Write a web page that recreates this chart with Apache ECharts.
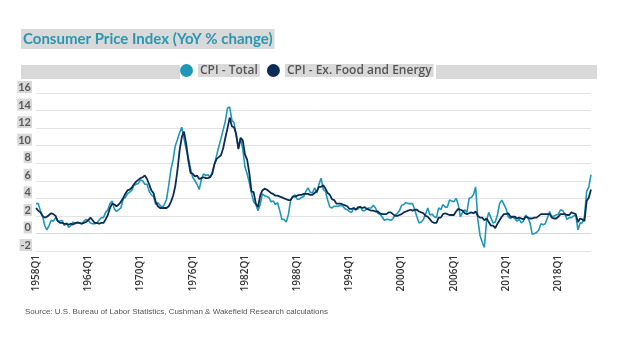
<!DOCTYPE html>
<html>
<head>
<meta charset="utf-8">
<script src="https://cdn.jsdelivr.net/npm/echarts@6/dist/echarts.min.js"></script>
<style>
  html, body { margin: 0; padding: 0; background: #fff; }
  #chart { width: 624px; height: 353px; }
</style>
</head>
<body>
<div id="chart"></div>
<script>
// quarterly, 1958Q1 .. 2021Q4
const firstYear = 1958;
const lastYear = 2021;

const cpiTotal = [
  3.4, 3.4, 2.6, 2.0,   0.9, 0.4, 0.9, 1.5,   1.4, 1.8, 1.4, 1.4,   1.5, 0.9, 1.2, 0.7,
  0.9, 1.3, 1.1, 1.3,   1.2, 1.1, 1.4, 1.6,   1.5, 1.2, 1.1, 1.1,   1.2, 1.5, 1.8, 1.8,
  2.4, 2.7, 3.4, 3.7,   2.8, 2.5, 2.7, 2.9,   3.9, 4.1, 4.5, 4.7,   4.9, 5.5, 5.6, 5.7,
  6.1, 6.0, 5.6, 5.6,   4.8, 4.4, 4.2, 3.3,   3.5, 3.2, 3.0, 3.3,   3.9, 5.5, 7.3, 8.4,
  10.0, 10.7, 11.5, 12.1, 10.8, 9.6, 8.6, 7.4, 6.4, 6.0, 5.6, 5.0,  6.2, 6.8, 6.6, 6.7,
  6.4, 7.0, 7.9, 8.9,   9.9, 10.8, 11.8, 12.8, 14.3, 14.4, 12.9, 12.6, 11.1, 9.8, 10.8, 9.6,
  7.6, 6.8, 5.8, 4.6,   3.6, 3.3, 2.6, 3.3,   4.5, 4.3, 4.2, 4.1,   3.6, 3.7, 3.3, 3.5,
  2.6, 1.6, 1.6, 1.3,   2.2, 3.8, 4.2, 4.4,   3.9, 3.9, 4.1, 4.2,   4.8, 5.2, 4.7, 4.6,
  5.2, 4.6, 5.6, 6.3,   5.0, 4.8, 3.8, 3.0,   2.9, 3.1, 3.1, 3.1,   3.2, 3.1, 2.8, 2.7,
  2.5, 2.4, 2.9, 2.7,   2.8, 3.1, 2.6, 2.6,   2.8, 2.9, 2.9, 3.2,   2.9, 2.3, 2.2, 1.9,
  1.5, 1.6, 1.6, 1.5,   1.7, 2.1, 2.3, 2.6,   3.2, 3.3, 3.5, 3.4,   3.4, 3.4, 2.7, 1.9,
  1.2, 1.3, 1.6, 2.2,   2.9, 2.1, 2.2, 1.9,   1.8, 2.9, 2.7, 3.3,   3.0, 3.0, 3.8, 3.7,
  3.6, 4.0, 3.3, 1.9,   2.4, 2.7, 2.4, 4.0,   4.1, 4.4, 5.3, 1.6,   -0.2, -1.0, -1.6, 1.4,
  2.4, 1.8, 1.2, 1.3,   2.1, 3.4, 3.8, 3.3,   2.8, 1.9, 1.7, 1.9,   1.7, 1.4, 1.6, 1.2,
  1.4, 2.1, 1.8, 1.2,   -0.1, 0.0, 0.1, 0.4,  1.1, 1.0, 1.1, 1.8,   2.5, 1.9, 2.0, 2.1,
  2.2, 2.7, 2.6, 2.2,   1.6, 1.8, 1.8, 2.0,   2.1, 0.4, 1.2, 1.2,   1.9, 4.8, 5.3, 6.7
];

const cpiCore = [
  2.9, 2.6, 2.4, 2.0,   1.8, 1.9, 2.1, 2.3,   2.2, 2.0, 1.4, 1.2,   1.2, 1.1, 1.1, 1.0,
  1.1, 1.0, 1.2, 1.2,   1.2, 1.1, 1.2, 1.3,   1.5, 1.8, 1.5, 1.2,   1.2, 1.1, 1.2, 1.2,
  1.6, 2.1, 2.9, 3.4,   3.3, 3.1, 3.3, 3.6,   4.0, 4.5, 4.9, 5.0,   5.2, 5.6, 5.9, 6.1,
  6.3, 6.4, 6.6, 6.2,   5.6, 4.9, 4.6, 3.6,   3.1, 2.9, 2.9, 2.9,   2.9, 3.1, 3.6, 4.3,
  5.4, 7.2, 9.5, 11.0,  11.6, 10.2, 8.3, 6.9, 6.8, 6.5, 6.6, 6.2,   6.3, 6.4, 6.3, 6.3,
  6.4, 6.8, 7.9, 8.5,   8.7, 8.9, 9.7, 10.9,  12.0, 13.2, 12.2, 12.1, 11.3, 9.6, 10.9, 10.6,
  9.0, 8.4, 6.9, 4.8,   4.7, 3.4, 3.0, 4.3,   4.9, 5.1, 5.0, 4.8,   4.6, 4.5, 4.3, 4.3,
  4.2, 4.1, 4.0, 3.9,   3.8, 3.8, 4.2, 4.2,   4.3, 4.4, 4.4, 4.5,   4.5, 4.5, 4.4, 4.4,
  4.6, 4.8, 5.3, 5.3,   5.5, 5.1, 4.6, 4.4,   3.9, 3.8, 3.4, 3.4,   3.4, 3.3, 3.2, 3.1,
  2.8, 2.8, 2.9, 2.7,   3.0, 3.0, 2.9, 3.0,   2.8, 2.7, 2.6, 2.6,   2.5, 2.5, 2.3, 2.2,
  2.2, 2.2, 2.4, 2.4,   2.2, 2.0, 2.0, 2.1,   2.2, 2.4, 2.5, 2.6,   2.7, 2.6, 2.7, 2.7,
  2.5, 2.4, 2.3, 2.0,   1.9, 1.6, 1.3, 1.2,   1.2, 1.8, 1.8, 2.2,   2.3, 2.2, 2.1, 2.1,
  2.1, 2.5, 2.8, 2.7,   2.6, 2.3, 2.2, 2.3,   2.4, 2.3, 2.5, 2.0,   1.8, 1.8, 1.5, 1.7,
  1.3, 0.9, 0.9, 0.6,   1.1, 1.5, 1.9, 2.2,   2.2, 2.3, 1.9, 1.9,   1.9, 1.7, 1.8, 1.7,
  1.6, 1.9, 1.8, 1.7,   1.7, 1.8, 1.8, 2.0,   2.2, 2.2, 2.2, 2.2,   2.2, 1.8, 1.7, 1.7,
  1.9, 2.2, 2.2, 2.2,   2.1, 2.1, 2.4, 2.3,   2.2, 1.3, 1.7, 1.6,   1.4, 3.7, 4.1, 5.0
];

const quarters = [];
for (let y = firstYear; y <= lastYear; y++) {
  for (let q = 1; q <= 4; q++) quarters.push(y + 'Q' + q);
}

const teal = '#1f97b6';
const navy = '#0b2c57';
const hiGray = '#d9d9d9';

const chart = echarts.init(document.getElementById('chart'));

chart.setOption({
  animation: false,
  title: {
    text: 'Consumer Price Index (YoY % change)',
    left: 21,
    top: 29,
    padding: [3, 2, 2, 2],
    backgroundColor: hiGray,
    textStyle: {
      fontFamily: 'Lato',
      fontSize: 15,
      lineHeight: 15,
      fontWeight: 'bold',
      color: '#2a96b2'
    }
  },
  graphic: [
    { type: 'rect', shape: { x: 21, y: 65, width: 159, height: 14 }, style: { fill: hiGray } },
    { type: 'rect', shape: { x: 436, y: 65, width: 161, height: 14 }, style: { fill: hiGray } },
    {
      type: 'text',
      left: 25,
      top: 308,
      style: {
        text: 'Source: U.S. Bureau of Labor Statistics, Cushman & Wakefield Research calculations',
        font: '8px "Liberation Sans", Arial, sans-serif',
        fill: '#555'
      }
    }
  ],
  legend: {
    left: 180,
    top: 64,
    padding: 0,
    icon: 'circle',
    itemWidth: 13,
    itemHeight: 13,
    itemGap: 7,
    data: ['CPI - Total', 'CPI - Ex. Food and Energy'],
    textStyle: {
      fontFamily: 'Open Sans',
      fontSize: 12,
      fontWeight: 600,
      color: '#555',
      backgroundColor: hiGray,
      padding: [1, 2, 0, 2]
    }
  },
  grid: {
    left: 36,
    right: 33,
    top: 93,
    bottom: 102
  },
  xAxis: {
    type: 'category',
    data: quarters,
    boundaryGap: false,
    axisLine: { lineStyle: { color: '#d9d9d9' } },
    axisTick: { show: false },
    axisLabel: {
      interval: 23,
      rotate: 90,
      margin: 4,
      fontFamily: 'Open Sans',
      fontSize: 10,
      fontWeight: 600,
      color: '#333'
    }
  },
  yAxis: {
    type: 'value',
    min: -2,
    max: 16,
    interval: 2,
    axisLine: { show: false },
    axisTick: { show: false },
    splitLine: { lineStyle: { color: '#e3e3e3', width: 1 } },
    axisLabel: {
      margin: 4,
      verticalAlign: 'bottom',
      fontFamily: 'Lato',
      fontSize: 11,
      fontWeight: 'bold',
      color: '#595959',
      backgroundColor: hiGray,
      padding: [1, 1, 0, 1]
    }
  },
  series: [
    {
      name: 'CPI - Total',
      type: 'line',
      data: cpiTotal,
      symbol: 'none',
      color: teal,
      lineStyle: { color: teal, width: 1.6 }
    },
    {
      name: 'CPI - Ex. Food and Energy',
      type: 'line',
      data: cpiCore,
      symbol: 'none',
      color: navy,
      lineStyle: { color: navy, width: 1.8 }
    }
  ]
});
</script>
</body>
</html>
